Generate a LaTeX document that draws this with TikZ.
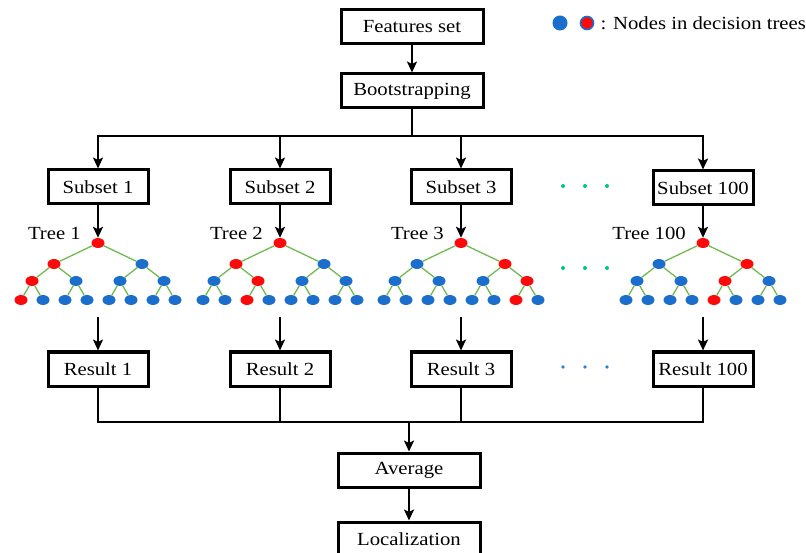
\documentclass[tikz,border=0pt]{standalone}
\usepackage{fontspec}
\setmainfont[FakeStretch=1.12]{Liberation Serif}
\usepackage{xcolor}
\usepackage{tikz}
\usetikzlibrary{arrows.meta, positioning, shapes.geometric}

\definecolor{nblue}{RGB}{28,110,204}
\definecolor{nred}{RGB}{250,10,10}
\definecolor{egreen}{RGB}{112,186,80}
\definecolor{dgreen}{RGB}{0,200,120}
\definecolor{dblue}{RGB}{40,130,220}

\tikzset{
  box/.style={draw, line width=3pt, minimum width=100pt, minimum height=34pt, inner sep=2pt, font=\fontsize{18.5}{20}\selectfont},
  widebox/.style={box, minimum width=142pt},
  ln/.style={line width=2.8pt, line join=miter},
  arr/.style={ln, -{Stealth[length=11pt, width=10pt, inset=2.5pt]}},
  tnode/.style={ellipse, inner sep=0pt, minimum width=13pt, minimum height=10pt},
  edge/.style={egreen, line width=1.3pt},
  lab/.style={anchor=east, inner sep=0pt, font=\fontsize{18.5}{20}\selectfont}
}

% #1 name, #2 x, #3/#4/#5 red node on levels 2/3/4, #6 label
\newcommand{\dtree}[6]{%
  \node[tnode, fill=nred] (#1-1-1) at (#2,243) {};
  \node[lab] (#1-lab) at (#2-17,233) {#6};
  \foreach \i in {1,2} {
    \edef\col{\ifnum\i=#3 nred\else nblue\fi}
    \node[tnode, fill=\col] (#1-2-\i) at ({#2+88*\i-132},264) {};
    \draw[edge] (#1-1-1) -- (#1-2-\i);
  }
  \foreach \i in {1,...,4} {
    \edef\col{\ifnum\i=#4 nred\else nblue\fi}
    \pgfmathtruncatemacro\p{(\i+1)/2}
    \node[tnode, fill=\col] (#1-3-\i) at ({#2+44*\i-110},281) {};
    \draw[edge] (#1-2-\p) -- (#1-3-\i);
  }
  \foreach \i in {1,...,8} {
    \edef\col{\ifnum\i=#5 nred\else nblue\fi}
    \pgfmathtruncatemacro\p{(\i+1)/2}
    \node[tnode, fill=\col] (#1-4-\i) at ({#2+22*\i-99},300) {};
    \draw[edge] (#1-3-\p) -- (#1-4-\i);
  }
  \coordinate (#1-base) at (#2,317);
}

\begin{document}
\begin{tikzpicture}[x=1pt, y=-1pt]
  \useasboundingbox (0,0) rectangle (806,553);

  % top
  \node[widebox] (feat) at (412,27) {Features set};
  \node[widebox] (boot) at (412,91) {Bootstrapping};
  \draw[arr] (feat) -- (boot);

  % legend
  \node[circle, fill=nblue, inner sep=0pt, minimum size=15pt] (legb) at (560,23) {};
  \node[circle, fill=nred, draw=nblue, line width=1.6pt, inner sep=0pt, minimum size=13pt] (legr) at (587,23) {};
  \node[right=6pt of legr, inner sep=0pt, font=\fontsize{18.5}{20}\selectfont] (legt) {: Nodes in decision trees};

  % subsets
  \node[box] (sub1) at (98,187) {Subset 1};
  \node[box] (sub2) at (280,187) {Subset 2};
  \node[box] (sub3) at (461,187) {Subset 3};
  \node[box] (sub100) at (703,188) {Subset 100};

  \coordinate (split) at (412,136);
  \draw[ln] (boot) -- (split);
  \foreach \s in {sub1,sub2,sub3,sub100}
    \draw[arr] (split) -| (\s);

  % trees
  \dtree{t1}{98}{1}{1}{1}{Tree 1}
  \dtree{t2}{280}{1}{2}{3}{Tree 2}
  \dtree{t3}{461}{2}{4}{7}{Tree 3}
  \dtree{t100}{703}{2}{3}{5}{Tree 100}

  \draw[arr] (sub1) -- (t1-1-1);
  \draw[arr] (sub2) -- (t2-1-1);
  \draw[arr] (sub3) -- (t3-1-1);
  \draw[arr] (sub100) -- (t100-1-1);

  % dots
  \foreach \x in {563,585,607} {
    \fill[dgreen] (\x,186) circle (2pt);
    \fill[dgreen] (\x,268) circle (2pt);
    \fill[dblue] (\x,367) circle (1.8pt);
  }

  % results
  \node[box] (res1) at (98,369) {Result 1};
  \node[box] (res2) at (280,369) {Result 2};
  \node[box] (res3) at (461,369) {Result 3};
  \node[box] (res100) at (703,369) {Result 100};

  \draw[arr] (t1-base) -- (res1);
  \draw[arr] (t2-base) -- (res2);
  \draw[arr] (t3-base) -- (res3);
  \draw[arr] (t100-base) -- (res100);

  % bottom
  \node[widebox] (avg) at (409,470) {Average};
  \node[widebox] (loc) at (409,539) {Localization};

  \coordinate (merge) at (409,422);
  \foreach \r in {res1,res2,res3,res100}
    \draw[ln] (\r) |- (merge);
  \draw[arr] (merge) -- (avg);
  \draw[arr] (avg) -- (loc);
\end{tikzpicture}
\end{document}
